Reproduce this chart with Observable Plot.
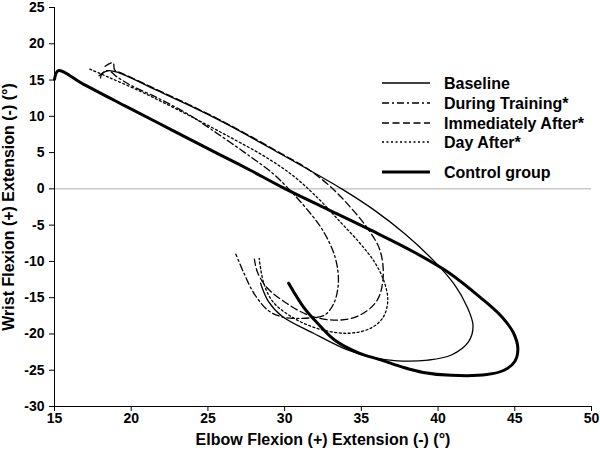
<!DOCTYPE html>
<html>
<head>
<meta charset="utf-8">
<script src="https://cdn.jsdelivr.net/npm/d3@7"></script>
<script src="https://cdn.jsdelivr.net/npm/@observablehq/plot@0.6"></script>
<style>
  html, body { margin: 0; padding: 0; background: #fff; }
  #wrap { position: relative; width: 600px; height: 455px; }
  #legend { position: absolute; left: 0; top: 0; pointer-events: none; }
</style>
</head>
<body>
<div id="wrap"></div>
<script>
// ---- Data (degrees) ----
const seriesNames = ["Baseline", "During Training*", "Immediately After*", "Day After*", "Control group"];
const xTicks = [15, 20, 25, 30, 35, 40, 45, 50];
const yTicks = [-30, -25, -20, -15, -10, -5, 0, 5, 10, 15, 20, 25];
const xTitle = "Elbow Flexion (+) Extension (-) (°)";
const yTitle = "Wrist Flexion (+) Extension (-) (°)";

const baselineX = [17.9, 18.5, 19.2, 21.65, 23.68, 25.7, 27.73, 29.75, 31.77, 33.8, 35.82, 37.83, 39.85, 41.07, 41.88, 42.28, 41.98, 40.87, 39.35, 37.33, 35.62, 34.1, 31.88, 29.85, 28.94, 28.43];
const baselineY = [15.6, 16.3, 16.0, 13.6, 11.6, 9.5, 7.2, 4.8, 2.4, -0.1, -2.9, -6.2, -10.2, -13.2, -16.2, -18.9, -21.1, -22.9, -23.6, -23.7, -23.2, -22.2, -19.9, -17.6, -15.5, -13.0];

const trainingX = [18.0, 18.1, 18.5, 19.1, 19.95, 21.65, 23.7, 25.7, 27.73, 29.25, 30.26, 31.37, 32.48, 33.3, 33.5, 33.2, 32.6, 31.57, 29.95, 28.95, 28.03, 27.32, 26.82];
const trainingY = [15.3, 15.9, 16.3, 15.4, 14.3, 12.6, 10.3, 7.5, 4.5, 2.1, 0.0, -2.6, -5.7, -9.5, -13.0, -15.8, -17.4, -17.8, -17.7, -16.8, -14.5, -11.5, -9.0];

const immediateX = [18.3, 18.82, 18.92, 19.43, 21.65, 23.68, 25.7, 27.73, 29.75, 31.47, 32.99, 34.4, 35.52, 36.22, 36.42, 36.02, 34.91, 33.5, 31.67, 30.15, 28.84, 28.23, 28.03];
const immediateY = [16.9, 17.4, 16.4, 15.9, 13.7, 11.7, 9.6, 7.3, 4.9, 2.8, 0.3, -2.8, -5.8, -8.5, -12.2, -15.4, -17.4, -18.1, -17.5, -15.8, -13.6, -11.5, -9.7];

const dayAfterX = [17.3, 18.62, 20.64, 22.66, 24.69, 26.72, 28.75, 30.56, 32.18, 33.6, 34.91, 35.92, 36.52, 36.72, 36.42, 35.62, 34.2, 32.38, 30.66, 29.25, 28.64, 28.34];
const dayAfterY = [16.5, 15.3, 13.4, 11.3, 9.1, 6.8, 4.4, 1.8, -1.3, -4.5, -7.5, -10.3, -13.0, -15.5, -17.7, -19.2, -19.9, -19.4, -17.9, -15.6, -13.0, -9.6];

const controlX = [15.0, 15.25, 16.9, 19.63, 22.66, 25.7, 27.73, 29.95, 32.78, 35.62, 38.33, 40.66, 42.77, 44.09, 44.9, 45.2, 45.0, 44.3, 43.18, 40.86, 39.04, 37.73, 36.32, 34.81, 33.3, 32.18, 31.27, 30.26];
const controlY = [15.1, 16.3, 14.4, 11.4, 8.1, 4.8, 2.6, 0.1, -2.8, -5.7, -8.6, -11.5, -15.0, -17.5, -19.8, -22.0, -23.8, -25.0, -25.6, -25.7, -25.3, -24.6, -23.6, -22.6, -20.9, -18.6, -16.4, -13.0];

// ---- build tables ----
const toPts = (xs, ys) => xs.map((x, i) => ({x, y: ys[i]}));
const series = [
  {name: seriesNames[0], pts: toPts(baselineX, baselineY), width: 1.3, dash: null},
  {name: seriesNames[1], pts: toPts(trainingX, trainingY), width: 1.3, dash: "7,3,2,3"},
  {name: seriesNames[2], pts: toPts(immediateX, immediateY), width: 1.3, dash: "7,3.5"},
  {name: seriesNames[3], pts: toPts(dayAfterX, dayAfterY), width: 1.3, dash: "2,2.5"},
  {name: seriesNames[4], pts: toPts(controlX, controlY), width: 3, dash: null}
];

const font = "'Liberation Sans', Arial, Helvetica, sans-serif";

const chart = Plot.plot({
  width: 600,
  height: 455,
  marginLeft: 54,
  marginRight: 9,
  marginTop: 7,
  marginBottom: 49,
  style: {fontFamily: font, fontSize: "14px", fontWeight: "bold", color: "#000", background: "#fff", overflow: "visible"},
  x: {domain: [15, 50], ticks: xTicks, tickSize: 5, tickPadding: 2, label: null, tickFormat: d => String(d)},
  y: {domain: [-30, 25], ticks: yTicks, tickSize: 5, tickPadding: 5, label: null, tickFormat: d => String(d)},
  marks: [
    Plot.ruleY([0], {stroke: "#c8c8c8", strokeWidth: 1.5}),
    ...series.map(s => Plot.line(s.pts, {
      x: "x", y: "y", curve: "catmull-rom", stroke: "#000",
      strokeWidth: s.width, strokeDasharray: s.dash || undefined, strokeLinejoin: "round"
    })),
    Plot.ruleX([15], {stroke: "#000", strokeWidth: 1}),
    Plot.ruleY([-30], {stroke: "#000", strokeWidth: 1}),
    Plot.text([xTitle], {frameAnchor: "bottom", textAnchor: "middle", dy: 38, fontSize: 16, fontWeight: "bold", fill: "#000"}),
    Plot.text([yTitle], {frameAnchor: "left", textAnchor: "middle", rotate: -90, dx: -46, fontSize: 16, fontWeight: "bold", fill: "#000"})
  ]
});

const wrap = document.getElementById("wrap");
wrap.appendChild(chart);

// ---- legend overlay ----
const legendRows = [83, 103, 123, 142, 172];
const leg = d3.select(wrap).append("svg")
  .attr("id", "legend").attr("width", 600).attr("height", 455);
series.forEach((s, i) => {
  const g = leg.append("g").attr("transform", `translate(0,${legendRows[i]})`);
  g.append("line").attr("x1", 382).attr("x2", 430).attr("y1", 0).attr("y2", 0)
    .attr("stroke", "#000").attr("stroke-width", s.width)
    .attr("stroke-dasharray", s.dash);
  g.append("text").attr("x", 444).attr("y", 0).attr("dy", "0.35em")
    .attr("font-family", font).attr("font-size", 16).attr("font-weight", "bold")
    .text(s.name);
});
</script>
</body>
</html>
